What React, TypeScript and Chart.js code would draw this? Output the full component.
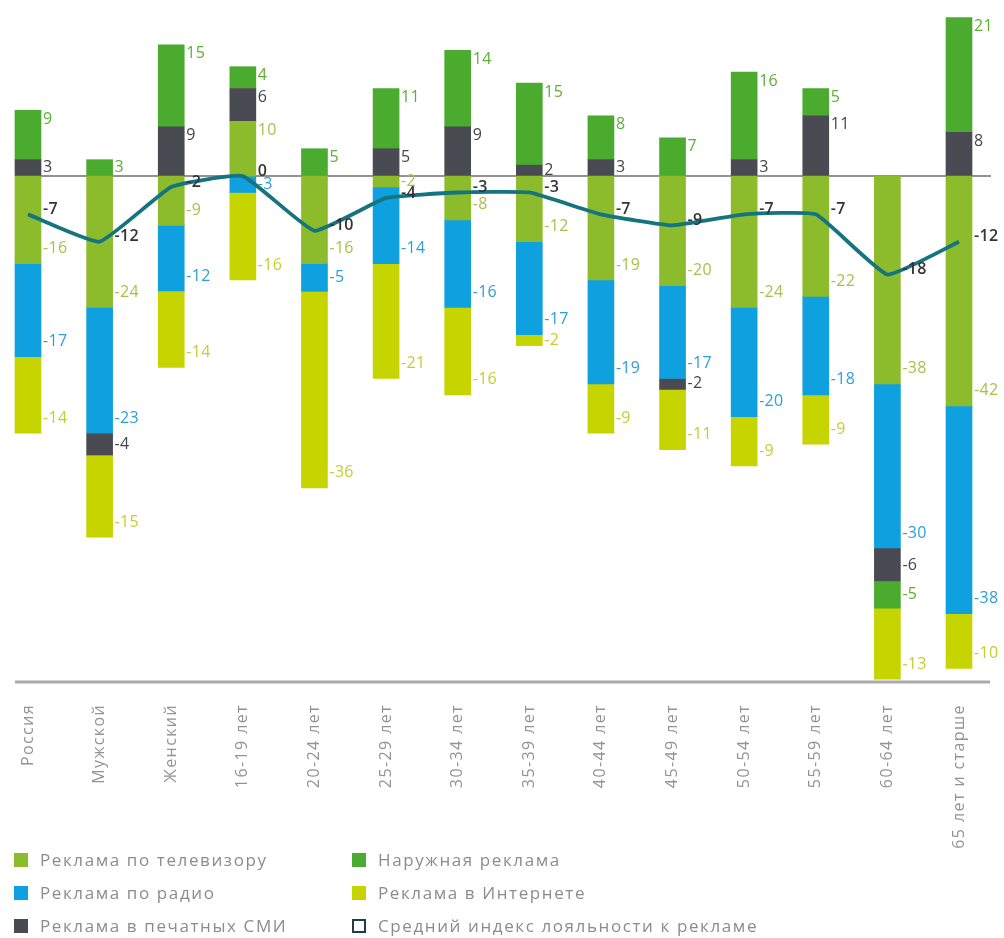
import React, { useEffect, useRef } from "react";
import { Chart, registerables } from "chart.js";

Chart.register(...registerables);

const FONT = "'Open Sans', 'Noto Sans', sans-serif";

const categories = [
  "Россия", "Мужской", "Женский", "16-19 лет", "20-24 лет", "25-29 лет", "30-34 лет",
  "35-39 лет", "40-44 лет", "45-49 лет", "50-54 лет", "55-59 лет", "60-64 лет", "65 лет и старше",
];

const tvAds = [-16, -24, -9, 10, -16, -2, -8, -12, -19, -20, -24, -22, -38, -42];
const radioAds = [-17, -23, -12, -3, -5, -14, -16, -17, -19, -17, -20, -18, -30, -38];
const printAds = [3, -4, 9, 6, 0, 5, 9, 2, 3, -2, 3, 11, -6, 8];
const outdoorAds = [9, 3, 15, 4, 5, 11, 14, 15, 8, 7, 16, 5, -5, 21];
const internetAds = [-14, -15, -14, -16, -36, -21, -16, -2, -9, -11, -9, -9, -13, -10];
const loyaltyIndex = [-7, -12, -2, 0, -10, -4, -3, -3, -7, -9, -7, -7, -18, -12];

const seriesNames = [
  "Реклама по телевизору",
  "Реклама по радио",
  "Реклама в печатных СМИ",
  "Наружная реклама",
  "Реклама в Интернете",
];
const loyaltyName = "Средний индекс лояльности к рекламе";

const yMin = -92.5;
const yMax = 30;

const barColors = ["#8cbb2b", "#0ea0df", "#4a4a52", "#4aab2e", "#c6d400"];
const labelColors = ["#a9c04c", "#2d9fd6", "#45454c", "#5cb034", "#c3cf30"];
const lineColor = "#15747f";
const BAR_W = 26;

const valueLabels = {
  id: "valueLabels",
  beforeUpdate(chart: any) {
    chart.ctx.letterSpacing = "1.4px";
  },
  beforeDraw(chart: any) {
    chart.ctx.letterSpacing = "1.4px";
  },
  beforeDatasetsDraw(chart: any) {
    const { ctx } = chart;
    const xs = chart.scales.x;
    const ys = chart.scales.y;
    const y0 = ys.getPixelForValue(0);
    ctx.save();
    ctx.strokeStyle = "#6e6e6e";
    ctx.lineWidth = 1.5;
    ctx.beginPath();
    ctx.moveTo(xs.left - 13, y0);
    ctx.lineTo(xs.right + 32, y0);
    ctx.stroke();
    ctx.restore();
  },
  afterDatasetDraw(chart: any, args: any) {
    const meta = args.meta;
    if (meta.type !== "bar") return;
    const ds = chart.data.datasets[args.index];
    const si = seriesNames.indexOf(ds.label);
    const color = labelColors[si];
    const { ctx } = chart;
    ctx.save();
    ctx.letterSpacing = "0.3px";
    ctx.font = `400 16px ${FONT}`;
    ctx.fillStyle = color;
    ctx.textAlign = "left";
    ctx.textBaseline = "middle";
    meta.data.forEach((el: any, j: number) => {
      const v = ds.data[j];
      if (!v) return;
      const p = el.getProps(["x", "y", "base"], true);
      const h = Math.abs(p.base - p.y);
      let cy;
      if (v > 0) cy = p.y + Math.min(9, h / 2);
      else cy = p.y - Math.min(15, h / 2);
      ctx.fillText(String(v), p.x + BAR_W / 2 + 2, cy);
    });
    ctx.restore();
  },
  afterDatasetsDraw(chart: any) {
    const { ctx } = chart;
    const xs = chart.scales.x;
    const ys = chart.scales.y;
    ctx.save();
    ctx.strokeStyle = "#a9a9a9";
    ctx.lineWidth = 3;
    ctx.beginPath();
    ctx.moveTo(xs.left - 13, ys.bottom);
    ctx.lineTo(xs.right + 31, ys.bottom);
    ctx.stroke();
    const idx = chart.data.datasets.findIndex((d: any) => d.type === "line");
    const meta = chart.getDatasetMeta(idx);
    ctx.letterSpacing = "0.3px";
    ctx.font = `600 16px ${FONT}`;
    ctx.fillStyle = "#333338";
    ctx.textAlign = "left";
    ctx.textBaseline = "middle";
    meta.data.forEach((pt: any, j: number) => {
      ctx.fillText(String(loyaltyIndex[j]), pt.x + BAR_W / 2 + 2, pt.y - 5);
    });
    ctx.restore();
  },
};

const legendItems = [
  { name: seriesNames[0], color: barColors[0], col: 0, row: 0 },
  { name: seriesNames[1], color: barColors[1], col: 0, row: 1 },
  { name: seriesNames[2], color: barColors[2], col: 0, row: 2 },
  { name: seriesNames[3], color: barColors[3], col: 1, row: 0 },
  { name: seriesNames[4], color: barColors[4], col: 1, row: 1 },
  { name: loyaltyName, color: "", col: 1, row: 2 },
];

export default function App() {
  const ref = useRef<HTMLCanvasElement>(null);

  useEffect(() => {
    document.documentElement.style.overflow = "hidden";
    document.body.style.margin = "0";
    const barSeries = [tvAds, radioAds, printAds, outdoorAds, internetAds];
    const datasets: any[] = [
      {
        type: "line",
        label: loyaltyName,
        data: loyaltyIndex,
        borderColor: lineColor,
        backgroundColor: lineColor,
        borderWidth: 3.8,
        pointRadius: 0,
        tension: 0.12,
        stack: "avg",
        order: -1,
        clip: false,
      },
      ...barSeries.map((data, i) => ({
        type: "bar",
        label: seriesNames[i],
        data,
        backgroundColor: barColors[i],
        borderWidth: 0,
        barThickness: BAR_W,
        stack: "media",
        order: 0,
        clip: false,
      })),
    ];
    const chart = new Chart(ref.current!, {
      type: "bar",
      data: { labels: categories, datasets },
      options: {
        animation: false,
        responsive: true,
        maintainAspectRatio: false,
        layout: { padding: { left: 20, right: 45, top: 4, bottom: 0 } },
        plugins: { legend: { display: false }, tooltip: { enabled: false } },
        scales: {
          x: {
            stacked: true,
            offset: false,
            grid: { display: false },
            border: { display: false },
            ticks: {
              autoSkip: false,
              minRotation: 90,
              maxRotation: 90,
              padding: 14,
              color: "#939393",
              font: { family: FONT, size: 16 },
            },
            afterFit: (s: any) => {
              s.height = 190;
            },
          },
          y: {
            stacked: true,
            display: false,
            min: yMin,
            max: yMax,
          },
        },
      },
      plugins: [valueLabels],
    } as any);
    return () => chart.destroy();
  }, []);

  return (
    <div style={{ width: 1004, height: 938, overflow: "hidden", fontFamily: FONT }}>
      <div style={{ position: "relative", left: 8, top: 8, width: 996, height: 930 }}>
        <div style={{ position: "absolute", left: 0, top: 0, width: 996, height: 864 }}>
          <canvas ref={ref} />
        </div>
        {legendItems.map((it) => (
          <div
            key={it.name}
            style={{
              position: "absolute",
              left: it.col === 0 ? 6 : 344,
              top: 842 + it.row * 33,
              height: 20,
              display: "flex",
              alignItems: "center",
              whiteSpace: "nowrap",
            }}
          >
            <span
              style={{
                display: "inline-block",
                width: it.color ? 14 : 10,
                height: it.color ? 14 : 10,
                background: it.color || "#fff",
                border: it.color ? "none" : "2px solid #1f3d4c",
                marginRight: 12,
              }}
            />
            <span style={{ fontSize: 17, lineHeight: "20px", letterSpacing: "1.6px", color: "#8c8c8c" }}>
              {it.name}
            </span>
          </div>
        ))}
      </div>
    </div>
  );
}
